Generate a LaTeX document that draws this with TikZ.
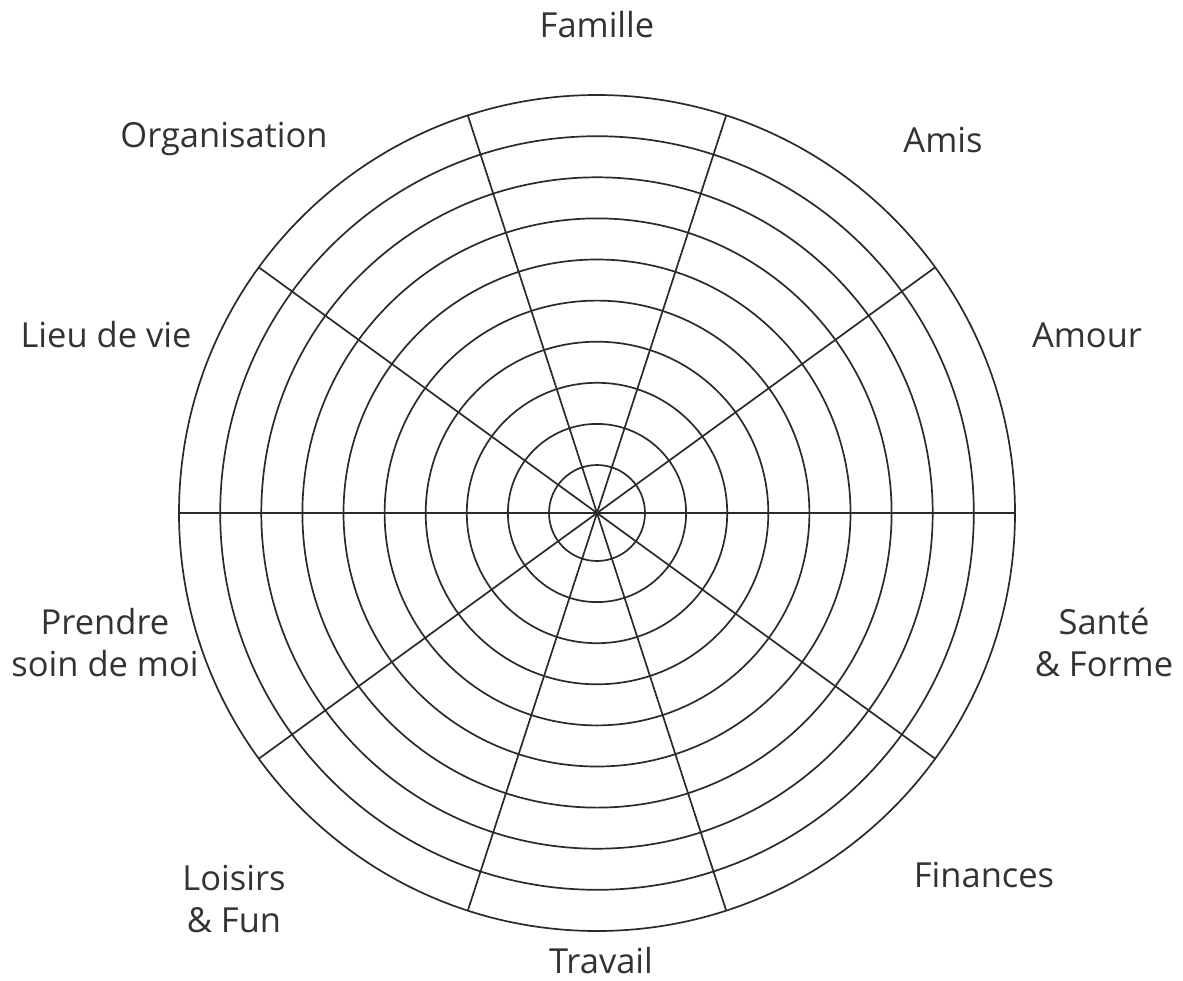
\documentclass[tikz,border=0pt]{standalone}
\usepackage{fontspec}
\setmainfont{Open Sans}
\usetikzlibrary{calc}
\definecolor{ink}{HTML}{2A2A2A}
\definecolor{txt}{HTML}{333333}
\begin{document}
\begin{tikzpicture}[x=1pt,y=-1pt,
  ring/.style={draw=ink,line width=1.7pt},
  spoke/.style={draw=ink,line width=1.7pt},
  lbl/.style={text=txt,font=\fontsize{34.5}{42}\selectfont,inner sep=0pt,anchor=base,align=center}]
\useasboundingbox (0,0) rectangle (1183,980);
\coordinate (c) at (597,513);
\foreach \r in {48,89.1,130.2,171.3,212.4,253.5,294.6,335.7,376.8,418}
  \draw[ring] (c) circle[radius=\r pt];
\foreach \a [count=\i] in {0,36,72,108,144} {
  \coordinate (s\i a) at ($(c)+(\a:418pt)$);
  \coordinate (s\i b) at ($(c)+(\a+180:418pt)$);
  \draw[spoke] (s\i a) -- (c) -- (s\i b);
}
\node[lbl] (famille) at (597,37) {Famille};
\node[lbl] (amis) at (943,152) {Amis};
\node[lbl] (amour) at (1087,347) {Amour};
\node[lbl] (sante) at (1104,676) {Santé\\\& Forme};
\node[lbl] (finances) at (984,887) {Finances};
\node[lbl] (travail) at (601,973) {Travail};
\node[lbl] (loisirs) at (234,932) {Loisirs\\\& Fun};
\node[lbl] (soin) at (105,676) {Prendre\\soin de moi};
\node[lbl] (lieu) at (106,347) {Lieu de vie};
\node[lbl] (orga) at (224,147) {Organisation};
\end{tikzpicture}
\end{document}
